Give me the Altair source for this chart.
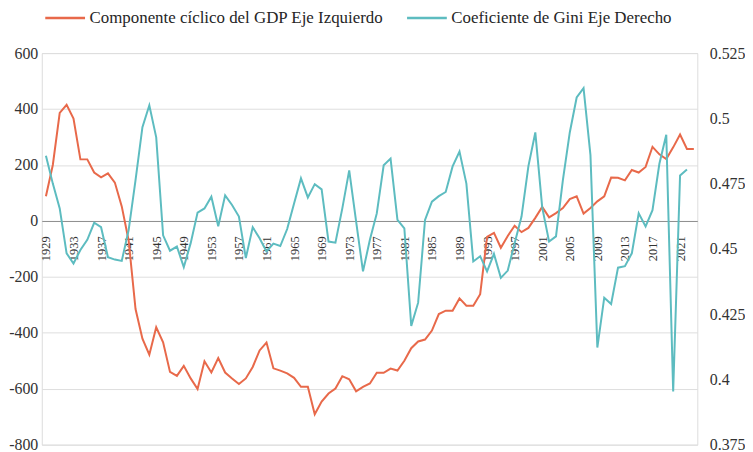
import altair as alt
import pandas as pd

# Series names (legend)
series_names = ["Componente cíclico del GDP Eje Izquierdo", "Coeficiente de Gini Eje Derecho"]
series_colors = ["#E8694A", "#5DBCC0"]

# Years
years_gdp = list(range(1929, 2024))
years_gini = list(range(1929, 2023))

# Cyclical component of GDP (left axis)
gdp = [88, 200, 386, 415, 366, 220, 220, 173, 156, 170,
       137, 52, -70, -315, -421, -478, -380, -434, -540, -554,
       -518, -563, -601, -502, -542, -490, -542, -563, -583, -563,
       -522, -463, -435, -527, -535, -545, -561, -593, -593, -691,
       -646, -617, -599, -555, -566, -609, -593, -581, -543, -543,
       -528, -535, -500, -455, -431, -424, -392, -333, -321, -321,
       -277, -303, -303, -262, -57, -43, -96, -54, -17, -40,
       -25, 11, 50, 13, 28, 46, 78, 88, 26, 46,
       70, 88, 155, 154, 145, 182, 173, 193, 265, 238,
       221, 263, 309, 257, 257]

# Gini coefficient (right axis)
gini = [0.4857, 0.4750, 0.4655, 0.4483, 0.4444, 0.4496, 0.4535, 0.4600, 0.4583, 0.4468,
        0.4459, 0.4454, 0.4572, 0.4763, 0.4966, 0.5050, 0.4927, 0.4552, 0.4493, 0.4509,
        0.4430, 0.4522, 0.4639, 0.4655, 0.4700, 0.4587, 0.4705, 0.4668, 0.4624, 0.4465,
        0.4583, 0.4541, 0.4490, 0.4520, 0.4511, 0.4576, 0.4674, 0.4770, 0.4697, 0.4748,
        0.4728, 0.4528, 0.4524, 0.4655, 0.4801, 0.4605, 0.4414, 0.4535, 0.4636, 0.4820,
        0.4846, 0.4611, 0.4579, 0.4205, 0.4294, 0.4611, 0.4681, 0.4702, 0.4718, 0.4816,
        0.4873, 0.4750, 0.4452, 0.4472, 0.4414, 0.4481, 0.4389, 0.4417, 0.4522, 0.4624,
        0.4817, 0.4946, 0.4659, 0.4528, 0.4548, 0.4763, 0.4946, 0.5080, 0.5116, 0.4859,
        0.4122, 0.4313, 0.4289, 0.4428, 0.4434, 0.4483, 0.4636, 0.4586, 0.4648, 0.4826,
        0.4937, 0.3954, 0.4781, 0.4804]

# Axis ticks
x_tick_years = list(range(1929, 2022, 4))
left_ticks = [-800, -600, -400, -200, 0, 200, 400, 600]
right_ticks = [0.375, 0.4, 0.425, 0.45, 0.475, 0.5, 0.525]

df_gdp = pd.DataFrame({"year": years_gdp, "value": gdp, "serie": series_names[0]})
df_gini = pd.DataFrame({"year": years_gini, "value": gini, "serie": series_names[1]})

FONT = "Liberation Serif"
W, H = 659.5, 394

x_enc = alt.X(
    "year:Q",
    scale=alt.Scale(domain=[1928.4, 2023.5], nice=False, zero=False),
    axis=alt.Axis(
        values=x_tick_years, labelAngle=-90, labelExpr="'' + datum.value",
        offset=-225.1, grid=False, ticks=False, domain=True,
        domainColor="#8c8c8c", domainWidth=1,
        labelFont=FONT, labelFontSize=12.5, labelColor="#333333",
        labelPadding=15, title=None, labelOverlap=False,
    ),
)

color_enc = alt.Color(
    "serie:N",
    scale=alt.Scale(domain=series_names, range=series_colors),
    legend=alt.Legend(
        orient="none", legendX=0, legendY=-44, direction="horizontal",
        title=None, symbolType="M-4,0H4", symbolSize=100, symbolStrokeWidth=2.5,
        symbolOffset=15, labelFont=FONT, labelFontSize=17, labelColor="#262626",
        labelLimit=500, labelOffset=16, columnPadding=18, padding=0,
    ),
)

left = alt.Chart(df_gdp).mark_line(strokeWidth=2).encode(
    x=x_enc,
    y=alt.Y(
        "value:Q",
        scale=alt.Scale(domain=[-800, 600], nice=False),
        axis=alt.Axis(
            values=left_ticks, orient="left", grid=True, gridColor="#dedede",
            domain=False, ticks=False, labelFont=FONT, labelFontSize=16,
            labelColor="#333333", labelPadding=4, labelExpr="'' + datum.value",
            title=None,
        ),
    ),
    color=color_enc,
)

right = alt.Chart(df_gini).mark_line(strokeWidth=2).encode(
    x=x_enc,
    y=alt.Y(
        "value:Q",
        scale=alt.Scale(domain=[0.375, 0.525], nice=False, zero=False),
        axis=alt.Axis(
            values=right_ticks, orient="right", grid=False,
            domain=False, ticks=False, labelFont=FONT, labelFontSize=16,
            labelColor="#333333", labelPadding=12, labelExpr="'' + datum.value",
            title=None,
        ),
    ),
    color=color_enc,
)

chart = (
    alt.layer(left, right)
    .resolve_scale(y="independent")
    .properties(width=W, height=H, padding={"left": 0, "top": 0, "right": 0, "bottom": 0})
    .configure_view(stroke=None)
    .configure(background="white")
)

chart.save("out.html", embed_options={"renderer": "svg", "actions": False})
